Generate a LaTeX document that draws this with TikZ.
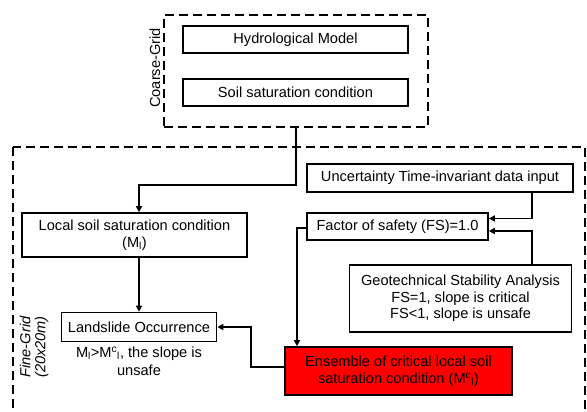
\documentclass[tikz,border=0pt]{standalone}
\usepackage{fontspec}
\setmainfont{Liberation Sans}
\usetikzlibrary{arrows.meta}

\tikzset{
  box/.style={draw, line width=1.6pt, align=center, inner sep=2pt},
  gridframe/.style={draw, line width=2.3pt, dash pattern=on 9pt off 5pt},
  flow/.style={line width=1.6pt, -{Triangle[length=6pt,width=6pt]}},
  gridlabel/.style={rotate=90, align=center},
}

\begin{document}
\begin{tikzpicture}[x=1pt, y=-1pt, font=\fontsize{14.6}{17.5}\selectfont]
  \useasboundingbox (0,0) rectangle (587,412);

  % coarse grid
  \node[gridframe, minimum width=264pt, minimum height=112pt] (coarse) at (296,71) {};
  \node[box, minimum width=225pt, minimum height=27pt] (hydro) at (295.5,39.5) {Hydrological Model};
  \node[box, minimum width=225pt, minimum height=27pt] (soil) at (295.5,92.5) {Soil saturation condition};
  \node[gridlabel] (coarselabel) at (155,68) {Coarse-Grid};

  % fine grid
  \draw[gridframe] (13,147) rectangle (585,440);
  \node[gridlabel, font=\fontsize{14.6}{15}\selectfont\itshape] (finelabel) at (34,347) {Fine-Grid\\(20x20m)};

  \node[box, minimum width=225pt, minimum height=44pt] (local) at (134.5,235) {Local soil saturation condition\\(M\textsubscript{l})};
  \node[box, minimum width=155pt, minimum height=29pt] (landslide) at (139,327) {Landslide Occurrence};
  \node[align=center] (rule) at (139,361) {M\textsubscript{l}>M\textsuperscript{c}\textsubscript{l}, the slope is\\unsafe};

  \node[box, minimum width=266pt, minimum height=28pt] (uncert) at (440,178) {Uncertainty Time-invariant data input};
  \node[box, minimum width=181pt, minimum height=27pt] (fos) at (397.5,226.5) {Factor of safety (FS)=1.0};
  \node[box, minimum width=222pt, minimum height=67pt, font=\fontsize{14.6}{16.5}\selectfont] (geo) at (460.5,298.5) {Geotechnical Stability Analysis\\FS=1, slope is critical\\FS<1, slope is unsafe};
  \node[box, fill=red, minimum width=227pt, minimum height=48pt] (red) at (398.5,371) {Ensemble of critical local soil\\saturation condition (M\textsuperscript{c}\textsubscript{l})};

  % connectors
  \draw[flow] (coarse.south) -- ++(0,57) -| (landslide.north |- local.north);
  \draw[flow] (landslide.north |- local.south) -- (landslide.north);
  \draw[flow] ([yshift=4pt]red.west) -- ++(-33,0) |- (landslide.east);
  \draw[flow] ([xshift=92pt]uncert.south) |- ([yshift=8pt]fos.east);
  \draw[flow] ([xshift=71.5pt]geo.north) |- ([yshift=-4.5pt]fos.east);
  \draw[flow] ([yshift=-1.5pt]fos.west) -| ([xshift=-101.5pt]red.north);
\end{tikzpicture}
\end{document}
